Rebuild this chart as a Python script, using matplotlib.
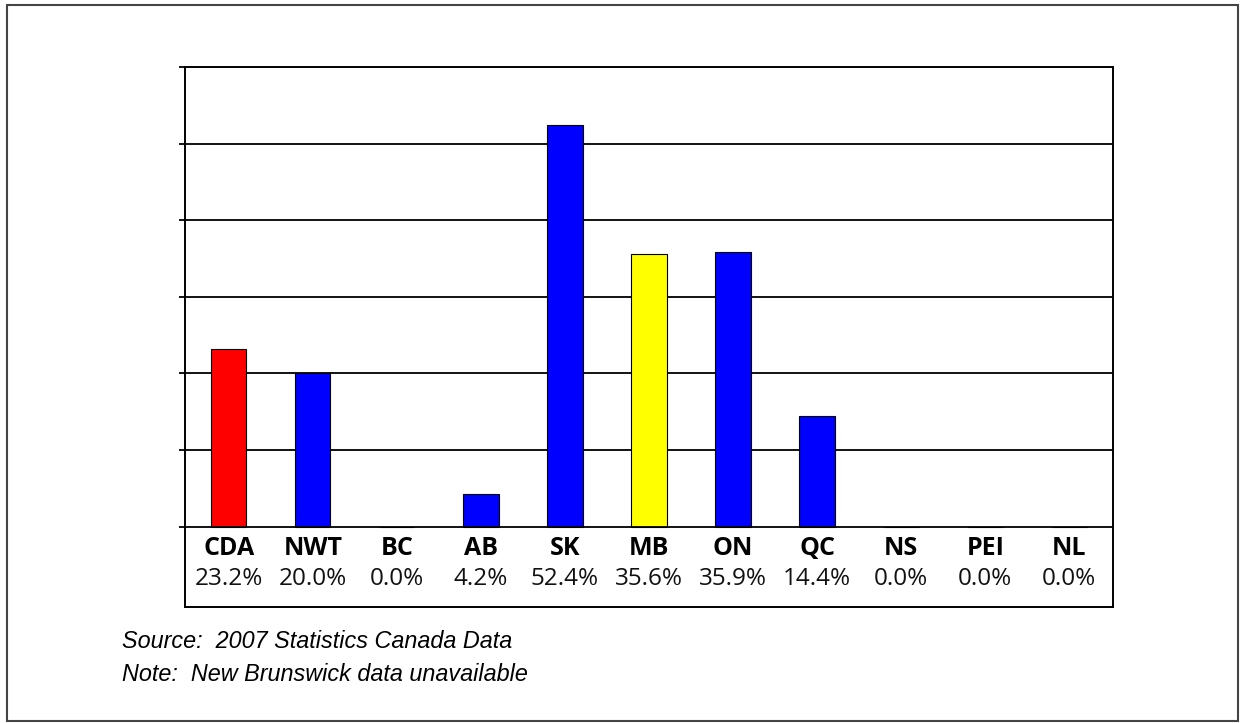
import matplotlib.pyplot as plt
from matplotlib.patches import Rectangle

# data
regions = ["CDA", "NWT", "BC", "AB", "SK", "MB", "ON", "QC", "NS", "PEI", "NL"]
rates = [23.2, 20.0, 0.0, 4.2, 52.4, 35.6, 35.9, 14.4, 0.0, 0.0, 0.0]
bar_colors = ["#ff0000", "#0000ff", "#0000ff", "#0000ff", "#0000ff", "#ffff00",
              "#0000ff", "#0000ff", "#0000ff", "#0000ff", "#0000ff"]
footer_lines = ["Source:  2007 Statistics Canada Data",
                "Note:  New Brunswick data unavailable"]

fig = plt.figure(figsize=(12.41, 7.23), dpi=100)
ax = fig.add_axes([185 / 1241, 1 - 607 / 723, (1113 - 185) / 1241, (607 - 67) / 723])

x = list(range(len(regions)))
ax.bar(x, rates, width=0.42, color=bar_colors, edgecolor="black",
       linewidth=0.8, zorder=3)

# gridlines at every 10%
for yv in range(0, 60, 10):
    ax.axhline(yv, color="black", lw=1.3, zorder=4 if yv == 0 else 2)

ax.set_xlim(-0.52, len(regions) - 0.48)
ax.set_ylim(-10.5, 60)
ax.set_yticks(range(0, 61, 10))
ax.set_yticklabels([])
ax.tick_params(axis="y", direction="out", length=4, width=1.3, color="black")
ax.set_xticks([])
for sp in ax.spines.values():
    sp.set_linewidth(1.4)
    sp.set_color("black")

for i, (name, val) in enumerate(zip(regions, rates)):
    ax.text(i, -2.8, name, ha="center", va="center", fontsize=18,
            fontweight="bold", family="Open Sans")
    ax.text(i, -6.9, f"{val:.1f}%", ha="center", va="center", fontsize=17.5,
            family="Open Sans", color="#111111")

fig.text(122 / 1241, 1 - 648 / 723, footer_lines[0], fontsize=16.8,
         style="italic", family="Liberation Sans", va="baseline")
fig.text(122 / 1241, 1 - 681 / 723, footer_lines[1], fontsize=16.8,
         style="italic", family="Liberation Sans", va="baseline")

# outer frame
fig.patches.append(Rectangle((7 / 1241, 1 - 721 / 723), (1238 - 7) / 1241,
                             (721 - 5) / 723, transform=fig.transFigure,
                             fill=False, edgecolor="#444444", lw=1.5))

fig.savefig("out.png", dpi=100)
